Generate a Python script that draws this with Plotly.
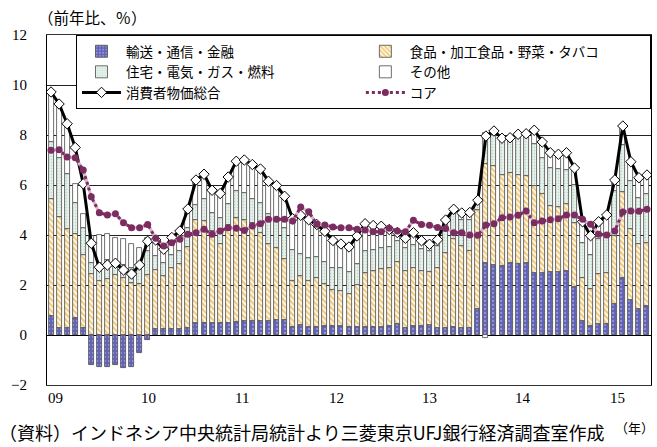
import plotly.graph_objects as go

transport = [0.76,0.27,0.28,0.67,0.28,-1.20,-1.28,-1.28,-1.20,-1.31,-1.28,-0.71,
             -0.21,0.24,0.25,0.25,0.25,0.27,0.50,0.50,0.47,0.49,0.49,0.53,
             0.56,0.56,0.56,0.56,0.59,0.59,0.32,0.40,0.32,0.32,0.36,0.36,
             0.36,0.32,0.32,0.32,0.32,0.32,0.36,0.46,0.29,0.36,0.38,0.40,
             0.29,0.30,0.32,0.30,0.29,1.03,2.89,2.80,2.78,2.89,2.85,2.89,
             2.47,2.49,2.51,2.51,2.57,1.92,0.55,0.38,0.44,0.44,1.25,2.29,
             1.39,1.04,1.16]
food_top = [5.43,4.72,4.25,4.05,3.20,2.45,2.16,2.25,2.39,2.27,2.09,2.05,
            2.39,2.60,2.38,2.69,2.84,3.52,4.59,4.55,4.15,3.63,4.40,4.70,
            4.59,4.47,4.09,3.63,3.47,3.06,2.18,2.36,2.16,2.27,2.04,1.81,
            1.76,1.63,2.02,2.49,2.56,2.63,2.70,2.92,2.57,2.68,2.55,2.53,
            2.70,3.29,3.83,3.56,3.37,5.00,6.84,6.76,6.40,6.49,6.40,6.36,
            5.96,5.63,5.18,5.12,5.25,4.48,2.30,1.83,2.43,2.47,3.95,5.72,
            4.26,3.63,3.69]
house_top = [7.73,7.07,6.43,5.30,4.30,2.90,2.90,3.00,2.89,2.80,2.70,2.80,
             3.36,3.16,2.90,3.22,3.36,4.30,5.22,5.45,4.88,4.67,5.23,5.75,
             5.67,5.45,5.29,4.83,4.69,4.30,3.41,3.25,3.09,3.12,2.91,2.70,
             2.67,2.53,2.84,3.36,3.39,3.48,3.54,3.76,3.50,3.60,3.43,3.37,
             3.58,4.15,4.83,4.60,4.60,5.30,8.08,8.00,7.83,7.85,7.96,8.00,
             7.64,7.10,6.68,6.63,6.61,6.00,3.69,3.22,3.83,4.00,5.76,7.60,
             6.16,5.48,5.63]
bar_top = [9.72,9.24,8.45,6.03,4.85,3.96,4.00,4.03,3.89,3.83,3.63,3.49,
           3.89,3.80,3.43,3.90,4.16,5.04,6.20,6.43,5.79,5.66,6.32,6.95,
           7.00,6.82,6.64,6.15,5.98,5.55,4.65,4.79,4.61,4.42,4.15,3.78,
           3.64,3.52,3.96,4.45,4.38,4.35,4.22,4.10,3.87,4.09,3.77,3.63,
           3.81,4.60,5.03,4.88,4.90,5.39,8.08,8.16,7.87,7.89,8.03,8.05,
           8.19,7.72,7.29,7.23,7.29,6.68,4.53,3.97,4.53,4.80,6.20,8.36,
           6.93,6.29,6.40]
other_neg = {54: -0.12}

cpi = [9.72,9.24,8.45,7.50,6.05,3.67,2.71,2.80,2.87,2.60,2.44,2.80,
       3.75,3.80,3.43,3.90,4.16,5.04,6.20,6.43,5.79,5.66,6.32,6.95,
       7.00,6.82,6.64,6.15,5.98,5.55,4.65,4.79,4.61,4.42,4.15,3.78,
       3.64,3.52,3.96,4.45,4.38,4.35,4.22,4.10,3.87,4.09,3.77,3.63,
       3.81,4.60,5.03,4.88,4.90,5.39,7.96,8.16,7.87,7.89,8.03,8.05,
       8.19,7.72,7.29,7.23,7.29,6.68,4.53,3.97,4.53,4.80,6.20,8.36,
       6.93,6.29,6.40]
core = [7.39,7.41,7.12,7.09,6.60,5.53,4.89,4.80,4.85,4.49,4.29,4.29,
        4.42,3.87,3.56,3.69,3.83,4.03,4.09,4.23,4.03,4.16,4.29,4.27,
        4.18,4.36,4.45,4.63,4.63,4.63,4.56,5.12,4.93,4.43,4.40,4.32,
        4.29,4.29,4.23,4.20,4.13,4.13,4.27,4.16,4.13,4.59,4.42,4.39,
        4.30,4.26,4.09,4.09,4.00,3.99,4.40,4.45,4.69,4.72,4.79,4.96,
        4.49,4.56,4.61,4.65,4.80,4.80,4.63,4.43,4.03,4.00,4.16,4.92,
        4.96,4.95,5.03]

year_labels = ["09", "10", "11", "12", "13", "14", "15"]

# derive stacked components
food, house, other = [], [], []
for i in range(len(transport)):
    base = max(transport[i], 0)
    food.append(round(food_top[i] - base, 2))
    house.append(round(house_top[i] - food_top[i], 2))
    other.append(round(other_neg.get(i, bar_top[i] - house_top[i]), 2))

x = list(range(len(transport)))
outline = dict(color="#4a4a4a", width=0.8)
W = 0.62
JP = "Noto Sans CJK JP"

fig = go.Figure()
fig.add_trace(go.Bar(x=x, y=transport, name="輸送・通信・金融", width=W,
    marker=dict(color="#6666bb", line=outline,
                pattern=dict(shape=".", bgcolor="#6262b8", fgcolor="#c9c9f0", size=4, solidity=0.25))))
fig.add_trace(go.Bar(x=x, y=food, name="食品・加工食品・野菜・タバコ", width=W,
    marker=dict(color="#ffffff", line=outline,
                pattern=dict(shape="\\", bgcolor="#ffffff", fgcolor="#e49a00", size=4, solidity=0.62))))
fig.add_trace(go.Bar(x=x, y=house, name="住宅・電気・ガス・燃料", width=W,
    marker=dict(color="#e3f1ea", line=outline,
                pattern=dict(shape=".", bgcolor="#e4f2ea", fgcolor="#8fbcaa", size=3, solidity=0.2))))
fig.add_trace(go.Bar(x=x, y=other, name="その他", width=W,
    marker=dict(color="#ffffff", line=outline)))
fig.add_trace(go.Scatter(x=x, y=cpi, name="消費者物価総合", mode="lines+markers",
    line=dict(color="#000000", width=3),
    marker=dict(symbol="diamond", size=8, color="#ffffff", line=dict(color="#000000", width=1))))
fig.add_trace(go.Scatter(x=x, y=core, showlegend=False, mode="lines", hoverinfo="skip",
    line=dict(color="#d8b6cb", width=3)))
fig.add_trace(go.Scatter(x=x, y=core, name="コア", mode="lines+markers",
    line=dict(color="#7b2c60", width=3, dash="dot"),
    marker=dict(symbol="circle", size=7, color="#7b2c60")))

# x labels as annotations (evenly spaced as in the original)
for k, lab in enumerate(year_labels):
    fig.add_annotation(x=0.5 + k * 11.63, y=0, xref="x", yref="paper", yshift=-23,
                       text=lab, showarrow=False,
                       font=dict(family="Liberation Serif", size=15, color="#000"))

fig.add_annotation(x=0, y=1.0, xref="paper", yref="paper", xanchor="left", yanchor="middle",
                   xshift=-11, yshift=18, text="（前年比、％）", showarrow=False,
                   font=dict(family=JP, size=15.5, color="#000"))
fig.add_annotation(x=0, y=0, xref="paper", yref="paper", xanchor="left", yanchor="middle",
                   xshift=-50, yshift=-47, text="（資料）インドネシア中央統計局統計より三菱東京UFJ銀行経済調査室作成",
                   showarrow=False, font=dict(family=JP, size=18, color="#000"))
fig.add_annotation(x=1, y=0, xref="paper", yref="paper", xanchor="right", yanchor="middle",
                   xshift=5, yshift=-42, text="（年）", showarrow=False,
                   font=dict(family=JP, size=13, color="#000"))

fig.update_layout(
    width=657, height=447,
    margin=dict(l=47, r=6, t=35, b=62),
    paper_bgcolor="#ffffff", plot_bgcolor="#ffffff",
    barmode="relative", bargap=0,
    font=dict(family=JP, size=13, color="#000"),
    showlegend=True,
    legend=dict(orientation="h", x=0.048, y=1, xanchor="left", yanchor="top",
                bgcolor="#ffffff", bordercolor="#000000", borderwidth=1,
                entrywidth=0.47, entrywidthmode="fraction", itemwidth=39,
                traceorder="normal",
                font=dict(family=JP, size=13.5)),
    xaxis=dict(range=[-0.5, 74.5], showticklabels=False, ticks="", showgrid=False,
               showline=True, linecolor="#333333", linewidth=1, mirror=True, zeroline=False),
    yaxis=dict(range=[-2, 12], dtick=2, tick0=0, showgrid=True, gridcolor="#222222", gridwidth=1,
               zeroline=True, zerolinecolor="#000000", zerolinewidth=1,
               showline=True, linecolor="#000000", linewidth=1, mirror=True,
               ticks="", ticklabelstandoff=16,
               tickfont=dict(family="Liberation Serif", size=15, color="#000")),
)

fig.write_html("out.html", config={"displayModeBar": False},
               post_script="document.body.style.margin='0';")
